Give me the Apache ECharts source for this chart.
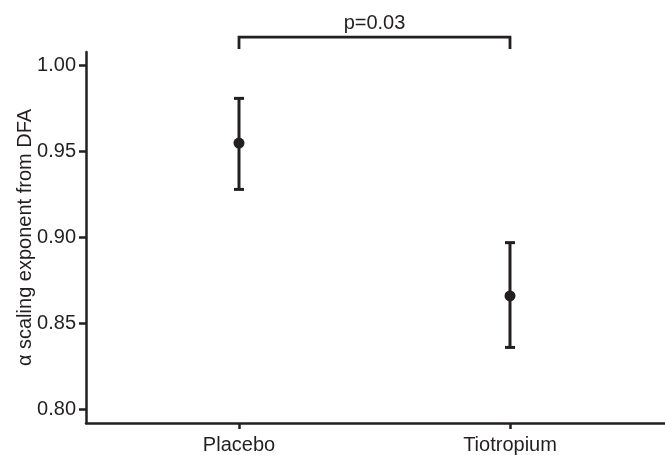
<!DOCTYPE html>
<html>
<head>
<meta charset="utf-8">
<script src="https://cdn.jsdelivr.net/npm/echarts@6/dist/echarts.min.js"></script>
<style>
html,body{margin:0;padding:0;background:#fff;}
#chart{width:665px;height:455px;}
</style>
</head>
<body>
<div id="chart"></div>
<script>
// ---- data ----
const categories = ['Placebo', 'Tiotropium'];
const means = [0.955, 0.866];
const lowerCI = [0.928, 0.836];
const upperCI = [0.981, 0.897];
const yTickValues = [0.80, 0.85, 0.90, 0.95, 1.00];
const yAxisTitle = '\u03b1 scaling exponent from DFA';
const comparisonPairs = [[1, 2]];          // category positions compared
const comparisonLevel = [1.0167];          // bracket top value
const comparisonDrop = [1.0097];           // bracket leg end value
const comparisonText = ['p=0.03'];

// ---- style ----
const INK = '#231f20';
const FONT = 'Liberation Sans, Arial, Helvetica, sans-serif';
const FS = 20;

const positions = categories.map((c, i) => i + 1);
const errData = positions.map((x, i) => [x, lowerCI[i], upperCI[i]]);
const meanData = positions.map((x, i) => [x, means[i]]);
const bracketData = comparisonPairs.map((p, i) => [p[0], p[1], comparisonLevel[i], comparisonDrop[i]]);

const chart = echarts.init(document.getElementById('chart'), null, {renderer: 'canvas'});
chart.setOption({
  animation: false,
  backgroundColor: '#ffffff',
  grid: {left: 86, right: 0, top: 52, bottom: 32, containLabel: false, outerBoundsMode: 'none'},
  xAxis: {
    type: 'value',
    min: 0.4354,
    max: 2.572,
    axisLine: {show: true, onZero: false, lineStyle: {color: INK, width: 2.5}},
    axisTick: {show: true, length: 6, lineStyle: {color: INK, width: 2.5}, customValues: positions},
    axisLabel: {
      show: true, margin: 12, color: INK, fontFamily: FONT, fontSize: FS,
      customValues: positions,
      formatter: v => categories[Math.round(v) - 1] || ''
    },
    splitLine: {show: false}
  },
  yAxis: {
    type: 'value',
    min: 0.792,
    max: 1.008,
    name: yAxisTitle,
    nameLocation: 'middle',
    nameGap: 51,
    nameMoveOverlap: false,
    nameTextStyle: {color: INK, fontFamily: FONT, fontSize: FS},
    axisLine: {show: true, onZero: false, lineStyle: {color: INK, width: 2.5}},
    axisTick: {show: true, length: 7, lineStyle: {color: INK, width: 2.5}, customValues: yTickValues},
    axisLabel: {
      show: true, margin: 10, color: INK, fontFamily: FONT, fontSize: FS,
      customValues: yTickValues,
      formatter: v => v.toFixed(2)
    },
    splitLine: {show: false}
  },
  series: [
    {
      type: 'custom',
      name: 'CI',
      data: errData,
      encode: {x: 0, y: [1, 2]},
      renderItem: function (params, api) {
        const x = api.value(0);
        const lo = api.coord([x, api.value(1)]);
        const hi = api.coord([x, api.value(2)]);
        const cap = 5;
        const st = {stroke: INK, lineWidth: 3};
        return {
          type: 'group',
          children: [
            {type: 'line', shape: {x1: lo[0], y1: lo[1], x2: hi[0], y2: hi[1]}, style: st},
            {type: 'line', shape: {x1: lo[0] - cap, y1: lo[1], x2: lo[0] + cap, y2: lo[1]}, style: st},
            {type: 'line', shape: {x1: hi[0] - cap, y1: hi[1], x2: hi[0] + cap, y2: hi[1]}, style: st}
          ]
        };
      },
      z: 2
    },
    {
      type: 'scatter',
      name: 'Mean',
      data: meanData,
      symbol: 'circle',
      symbolSize: 11,
      itemStyle: {color: INK, opacity: 1},
      z: 3
    },
    {
      type: 'custom',
      name: 'Comparison',
      data: bracketData,
      clip: false,
      encode: {x: [0, 1], y: [2, 3]},
      renderItem: function (params, api) {
        const a = api.coord([api.value(0), api.value(2)]);
        const b = api.coord([api.value(1), api.value(2)]);
        const aLow = api.coord([api.value(0), api.value(3)]);
        const bLow = api.coord([api.value(1), api.value(3)]);
        const st = {stroke: INK, lineWidth: 2.8, fill: null};
        return {
          type: 'group',
          children: [
            {type: 'polyline', shape: {points: [[aLow[0], aLow[1]], [a[0], a[1]], [b[0], b[1]], [bLow[0], bLow[1]]]}, style: st},
            {type: 'text', style: {
              text: comparisonText[params.dataIndex],
              x: (a[0] + b[0]) / 2, y: a[1] - 4,
              align: 'center', verticalAlign: 'bottom',
              fill: INK, font: FS + 'px ' + FONT
            }}
          ]
        };
      },
      z: 2
    }
  ]
});
</script>
</body>
</html>
